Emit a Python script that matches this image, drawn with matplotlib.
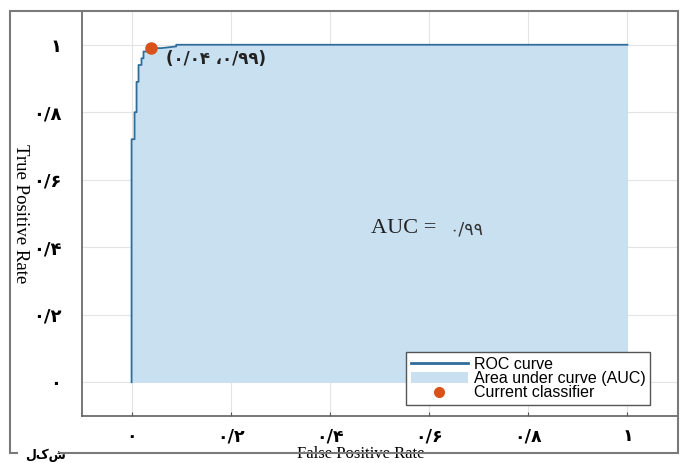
import matplotlib
matplotlib.use('Agg')
import matplotlib.pyplot as plt
from matplotlib import font_manager
from matplotlib.ft2font import FT2Font
from matplotlib.patches import Rectangle
from matplotlib.lines import Line2D
from matplotlib.patches import Patch

# ROC curve points (FPR, TPR)
fpr = [0.0, 0.0, 0.006, 0.006, 0.010, 0.010, 0.014, 0.014, 0.020, 0.020,
       0.024, 0.024, 0.035, 0.042, 0.060, 0.090, 0.090, 1.0]
tpr = [0.0, 0.72, 0.72, 0.80, 0.80, 0.89, 0.89, 0.94, 0.94, 0.96,
       0.96, 0.98, 0.98, 0.99, 0.99, 0.995, 1.0, 1.0]
cur_fpr = 0.04
cur_tpr = 0.99
ticks = [0, 0.2, 0.4, 0.6, 0.8, 1.0]
tick_labels = ['۰', '۰/۲', '۰/۴', '۰/۶', '۰/۸', '۱']
point_label = '(۰/۰۴ ،۰/۹۹)'
auc_label = '۰/۹۹'
caption = 'لکش'

line_col = '#2f6d9b'
fill_col = '#c8e0f0'
dot_col = '#d95319'


def font_with(chars):
    # look for an installed font file that has all the given glyphs
    for f in font_manager.fontManager.ttflist:
        try:
            ft = FT2Font(f.fname)
            if all(ft.get_char_index(ord(c)) for c in chars):
                return f.fname
        except Exception:
            pass
    return None


fig = plt.figure(figsize=(6.81, 4.63), dpi=100)
fig.patch.set_facecolor('white')

# outer frame of the picture
fig.patches.append(Rectangle((10/681, 1-453/463), 668/681, 442/463,
                             transform=fig.transFigure, fill=False,
                             edgecolor='#7a7a7a', lw=1.5, zorder=0))

ax = fig.add_axes([82/681, 1-416/463, 595/681, 405/463])
ax.fill_between(fpr, tpr, 0, color=fill_col, lw=0, zorder=2)
ax.plot(fpr, tpr, color=line_col, lw=1.3, zorder=3)
ax.plot([cur_fpr], [cur_tpr], 'o', color=dot_col, ms=8, zorder=4)
ax.text(0.07, 0.958, point_label, fontsize=12, fontweight='bold',
        color='#222222', va='center', ha='left', zorder=5)
ax.text(0.482, 0.456, 'AUC = ', family='Liberation Serif', fontsize=16,
        color='#222222', va='center', ha='left', zorder=5)
ax.text(0.64, 0.452, auc_label, fontsize=12.5, color='#333333',
        va='center', ha='left', zorder=5)

ax.set_xlim(-0.1, 1.1)
ax.set_ylim(-0.1, 1.1)
ax.set_xticks(ticks)
ax.set_yticks(ticks)
ax.set_xticklabels(tick_labels, fontsize=12.5, fontweight='bold')
ax.set_yticklabels(tick_labels, fontsize=13, fontweight='bold')
ax.tick_params(axis='x', direction='in', length=3, pad=8, color='#555555')
ax.tick_params(axis='y', length=0, pad=15)
ax.grid(True, color='#e4e4e4', lw=0.8, zorder=0)
ax.set_axisbelow(True)
for s in ['top', 'right']:
    ax.spines[s].set_visible(False)
for s in ['left', 'bottom']:
    ax.spines[s].set_color('#606060')
    ax.spines[s].set_linewidth(1.2)

ax.set_xlabel('False Positive Rate', family='Liberation Serif', fontsize=12)
ax.xaxis.set_label_coords((361-82)/595, -0.074)
ax.set_ylabel('True Positive Rate', family='Liberation Serif', fontsize=13.5,
              rotation=270)
ax.yaxis.set_label_coords((12-82)/595, 0.5)

handles = [Line2D([0], [0], color=line_col, lw=2),
           Patch(facecolor=fill_col, edgecolor='none'),
           Line2D([0], [0], marker='o', color=dot_col, ls='None', ms=7)]
labels = ['ROC curve', 'Area under curve (AUC)', 'Current classifier']
leg = ax.legend(handles, labels, loc='lower right',
                bbox_to_anchor=(0.955, 0.027), borderaxespad=0,
                prop={'family': 'Liberation Sans', 'size': 11.5},
                handlelength=3.6, handletextpad=0.35, labelspacing=-0.05,
                borderpad=0.3, fancybox=False, framealpha=1,
                edgecolor='#555555')
leg.get_frame().set_linewidth(1.0)

# cut-off caption fragment at the bottom left
fig.patches.append(Rectangle((18/681, 0), 40/681, 14/463,
                             transform=fig.transFigure, facecolor='white',
                             edgecolor='none', zorder=1))
cap_file = font_with(caption)
if cap_file:
    fig.text(25/681, 1/463, caption, fontsize=9, va='bottom',
             fontproperties=font_manager.FontProperties(fname=cap_file,
                                                        size=9))

fig.savefig('out.png', dpi=100)
